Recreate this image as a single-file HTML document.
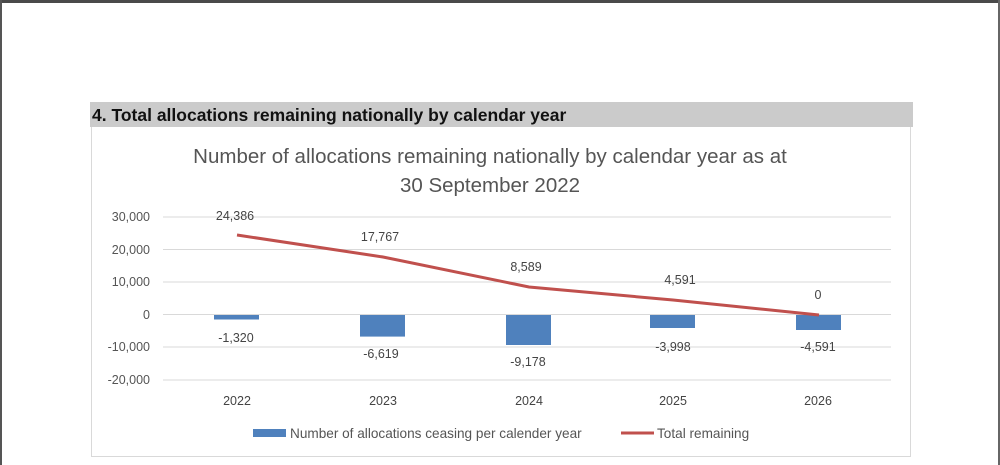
<!DOCTYPE html>
<html><head><style>
body{margin:0;width:1000px;height:465px;overflow:hidden;background:#fff;font-family:"Liberation Sans",sans-serif;position:relative}
</style></head><body>
<div style="position:absolute;left:0;top:0;width:1000px;height:3px;background:#4a4a4a"></div>
<div style="position:absolute;left:0;top:0;width:2px;height:465px;background:#555"></div>
<div style="position:absolute;right:0;top:0;width:2px;height:465px;background:#666"></div>
<div style="position:absolute;left:90px;top:102px;width:823px;height:25px;background:#cbcbcb"></div>
<div style="position:absolute;left:92px;top:105px;font-weight:bold;font-size:17.5px;color:#111;white-space:nowrap">4. Total allocations remaining nationally by calendar year</div>
<div style="position:absolute;left:91px;top:127px;width:818px;height:329px;border:1px solid #d9d9d9;border-top:none"></div>
<svg width="1000" height="465" style="position:absolute;left:0;top:0" font-family="Liberation Sans, sans-serif">
<text x="490" y="163" font-size="20.5" fill="#555" text-anchor="middle">Number of allocations remaining nationally by calendar year as at</text>
<text x="490" y="192" font-size="20.5" fill="#555" text-anchor="middle">30 September 2022</text>
<g stroke="#d9d9d9" stroke-width="1">
<line x1="163" x2="891" y1="217" y2="217"/><line x1="163" x2="891" y1="249.5" y2="249.5"/>
<line x1="163" x2="891" y1="282" y2="282"/><line x1="163" x2="891" y1="314.5" y2="314.5"/>
<line x1="163" x2="891" y1="347" y2="347"/><line x1="163" x2="891" y1="380" y2="380"/>
</g>
<g font-size="12.5" fill="#555" text-anchor="end">
<text x="150" y="221">30,000</text><text x="150" y="254">20,000</text><text x="150" y="286">10,000</text>
<text x="150" y="319">0</text><text x="150" y="351">-10,000</text><text x="150" y="384">-20,000</text>
</g>
<g fill="#4f81bd">
<rect x="214" y="315" width="45" height="4.5"/>
<rect x="360" y="315" width="45" height="21.6"/>
<rect x="506" y="315" width="45" height="30"/>
<rect x="650" y="315" width="45" height="13"/>
<rect x="796" y="315" width="45" height="15"/>
</g>
<polyline points="237,235 383,257 529,287 673,300 819,315" fill="none" stroke="#c0504d" stroke-width="3"/>
<g font-size="12.5" fill="#444" text-anchor="middle">
<text x="235" y="220">24,386</text><text x="380" y="241">17,767</text><text x="526" y="271">8,589</text>
<text x="680" y="284">4,591</text><text x="818" y="299">0</text>
<text x="236" y="342">-1,320</text><text x="381" y="358">-6,619</text><text x="528" y="366">-9,178</text>
<text x="673" y="351">-3,998</text><text x="818" y="351">-4,591</text>
<text x="237" y="405">2022</text><text x="383" y="405">2023</text><text x="529" y="405">2024</text>
<text x="673" y="405">2025</text><text x="818" y="405">2026</text>
</g>
<rect x="253" y="429" width="33" height="8" fill="#4f81bd"/>
<text x="290" y="438" font-size="13.6" fill="#555">Number of allocations ceasing per calender year</text>
<line x1="621" x2="654" y1="433" y2="433" stroke="#c0504d" stroke-width="3"/>
<text x="657" y="438" font-size="13.6" fill="#555">Total remaining</text>
</svg>
</body></html>
